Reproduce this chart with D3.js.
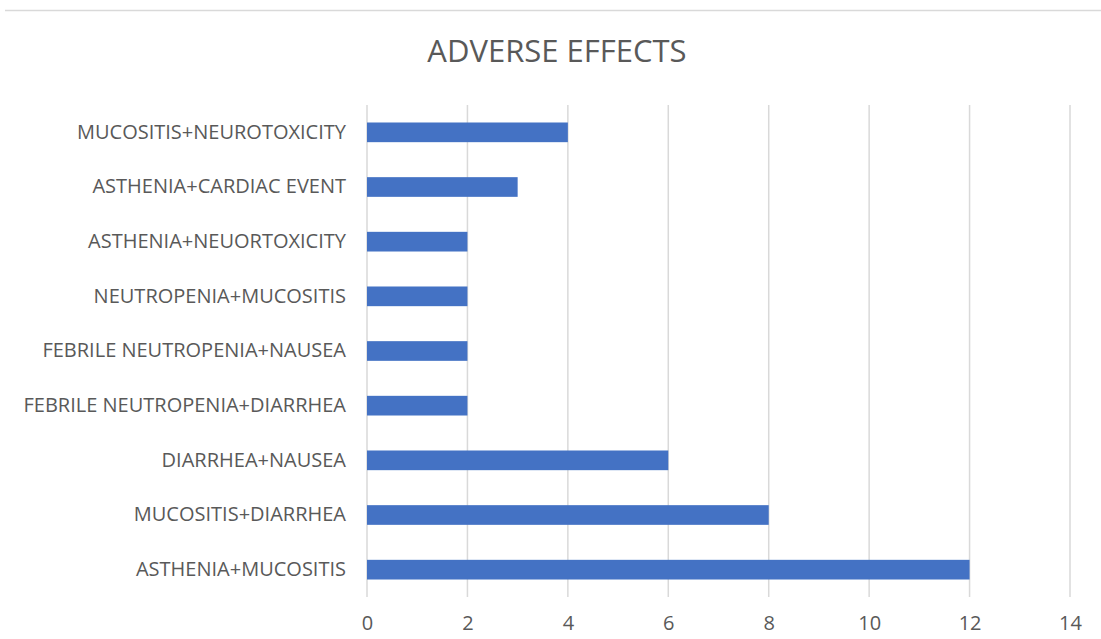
<!DOCTYPE html>
<html>
<head>
<meta charset="utf-8">
<script src="https://cdn.jsdelivr.net/npm/d3@7"></script>
<style>
  body { margin: 0; background: #fff; }
  svg text { font-family: "Open Sans", sans-serif; fill: #595959; }
</style>
</head>
<body>
<svg class="chart" width="1101" height="639"></svg>
<script>
// categories as listed in the sheet (first one drawn at the bottom)
const categories = [
  "ASTHENIA+MUCOSITIS",
  "MUCOSITIS+DIARRHEA",
  "DIARRHEA+NAUSEA",
  "FEBRILE NEUTROPENIA+DIARRHEA",
  "FEBRILE NEUTROPENIA+NAUSEA",
  "NEUTROPENIA+MUCOSITIS",
  "ASTHENIA+NEUORTOXICITY",
  "ASTHENIA+CARDIAC EVENT",
  "MUCOSITIS+NEUROTOXICITY"
];
const counts = [12, 8, 6, 2, 2, 2, 2, 3, 4];
const xTicks = [0, 2, 4, 6, 8, 10, 12, 14];
const title = "ADVERSE EFFECTS";

const data = categories.map((c, i) => ({ name: c, value: counts[i] }));

const svg = d3.select(".chart");
const width = +svg.attr("width");
const margin = { top: 105, right: 31, bottom: 42, left: 367 };
const innerHeight = +svg.attr("height") - margin.top - margin.bottom;

// thin frame line at the top
svg.append("line")
  .attr("x1", 5).attr("x2", width)
  .attr("y1", 10.5).attr("y2", 10.5)
  .attr("stroke", "#d9d9d9").attr("stroke-width", 1.5);

svg.append("text")
  .attr("x", 557)
  .attr("y", 62)
  .attr("text-anchor", "middle")
  .style("font-size", "31px")
  .text(title);

const x = d3.scaleLinear().domain([0, 14]).range([margin.left, width - margin.right]);
const y = d3.scaleBand()
  .domain(categories.slice().reverse())
  .range([margin.top, margin.top + innerHeight])
  .paddingInner(0.64)
  .paddingOuter(0.32);

// gridlines
svg.append("g")
  .selectAll("line")
  .data(xTicks)
  .join("line")
  .attr("x1", d => x(d)).attr("x2", d => x(d))
  .attr("y1", margin.top).attr("y2", margin.top + innerHeight)
  .attr("stroke", "#d9d9d9")
  .attr("stroke-width", 1.5);

// bars
svg.append("g")
  .selectAll("rect")
  .data(data)
  .join("rect")
  .attr("x", x(0))
  .attr("y", d => y(d.name))
  .attr("width", d => x(d.value) - x(0))
  .attr("height", y.bandwidth())
  .attr("fill", "#4472c4");

// x axis labels
const xAxis = svg.append("g")
  .attr("transform", `translate(0,${margin.top + innerHeight})`)
  .call(d3.axisBottom(x).tickValues(xTicks).tickSize(0).tickPadding(19));
xAxis.select(".domain").remove();
xAxis.selectAll("text").style("font-size", "20px").attr("fill", "#595959");

// category labels
const yAxis = svg.append("g")
  .attr("transform", `translate(${margin.left},0)`)
  .call(d3.axisLeft(y).tickSize(0).tickPadding(21));
yAxis.select(".domain").remove();
yAxis.selectAll("text").style("font-size", "20px").attr("fill", "#595959");
</script>
</body>
</html>
